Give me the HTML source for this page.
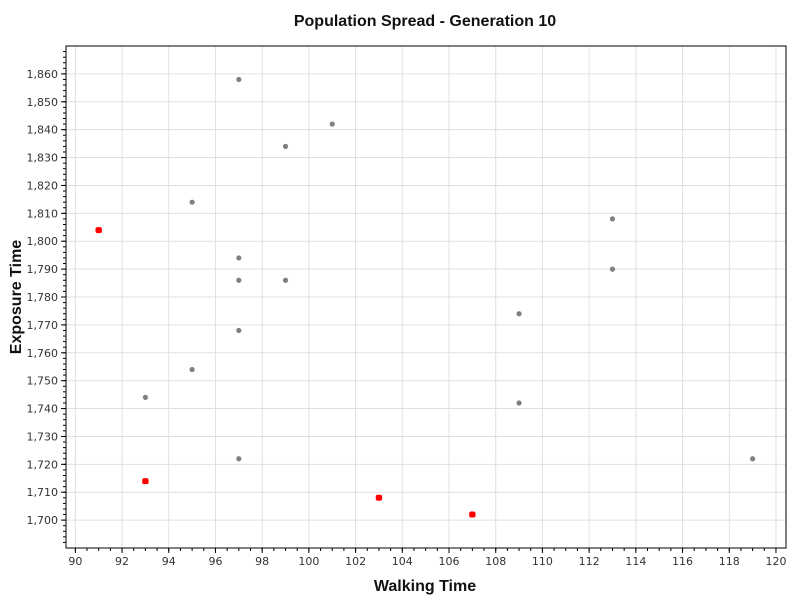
<!DOCTYPE html>
<html><head><meta charset="utf-8"><style>
body{margin:0;background:#fff;font-family:"Liberation Sans",sans-serif;}
svg text{font-family:"DejaVu Sans","Liberation Sans",sans-serif;}
svg text.ttl{font-family:"Liberation Sans",sans-serif;font-weight:bold;}
</style></head><body>
<svg id="chart" width="800" height="600" xmlns="http://www.w3.org/2000/svg">
<rect width="800" height="600" fill="#fff"/>
<text class="ttl" x="425" y="26" text-anchor="middle" font-size="16" fill="#111">Population Spread - Generation 10</text>
<text class="ttl" x="425" y="591" text-anchor="middle" font-size="16" fill="#111">Walking Time</text>
<text class="ttl" transform="translate(21,297) rotate(-90)" text-anchor="middle" font-size="16" fill="#111">Exposure Time</text>
<g id="grid"></g><g id="axes"></g><g id="points"></g>
</svg>
<script>
const grayX=[97,101,99,95,113,97,113,97,99,109,97,95,93,109,97,119];
const grayY=[1858,1842,1834,1814,1808,1794,1790,1786,1786,1774,1768,1754,1744,1742,1722,1722];
const redX=[91,93,103,107];
const redY=[1804,1714,1708,1702];
const xTicks=[90,92,94,96,98,100,102,104,106,108,110,112,114,116,118,120];
const yTicks=[1700,1710,1720,1730,1740,1750,1760,1770,1780,1790,1800,1810,1820,1830,1840,1850,1860];
const L=66,R=786,T=46,B=548,x0=89.6,x1=120.43,y0=1690,y1=1870;
const sx=v=>L+(v-x0)/(x1-x0)*(R-L);
const sy=v=>B-(v-y0)/(y1-y0)*(B-T);
const NS="http://www.w3.org/2000/svg";
function mk(tag,attrs,parent){const e=document.createElementNS(NS,tag);for(const k in attrs)e.setAttribute(k,attrs[k]);parent.appendChild(e);return e;}
const g=document.getElementById('grid'),ax=document.getElementById('axes'),pt=document.getElementById('points');
xTicks.forEach(v=>{const l=mk('line',{x1:sx(v),x2:sx(v),y1:T,y2:B,stroke:'#e0e0e0','stroke-width':1},g);


const t=mk('text',{x:sx(v),y:B+17,'text-anchor':'middle','font-size':11,fill:'#333'},ax);t.textContent=v;


mk('line',{x1:sx(v),x2:sx(v),y1:B,y2:B+5,stroke:'#000'},ax);});
for(let v=90;v<=120.4;v+=0.5){mk('line',{x1:sx(v),x2:sx(v),y1:B,y2:B+3,stroke:'#000'},ax);}
yTicks.forEach(v=>{const l=mk('line',{x1:L,x2:R,y1:sy(v),y2:sy(v),stroke:'#e0e0e0','stroke-width':1},g);


const t=mk('text',{x:L-8,y:sy(v)+4,'text-anchor':'end','font-size':11,fill:'#333'},ax);t.textContent=v.toLocaleString('en-US');


mk('line',{x1:L-5,x2:L,y1:sy(v),y2:sy(v),stroke:'#000'},ax);});
for(let v=1692;v<=1868;v+=2){mk('line',{x1:L-3,x2:L,y1:sy(v),y2:sy(v),stroke:'#000'},ax);}
const fr=mk('rect',{x:L,y:T,width:R-L,height:B-T,fill:'none',stroke:'#000','stroke-width':1},ax);


grayX.forEach((v,i)=>{const c=mk('circle',{cx:sx(v),cy:sy(grayY[i]),r:2.6,fill:'#808080'},pt);

});
redX.forEach((v,i)=>{const c=mk('rect',{x:sx(v)-3.2,y:sy(redY[i])-3,width:6.4,height:6,rx:2,fill:'#ff0000'},pt);

});
</script>
</body></html>
